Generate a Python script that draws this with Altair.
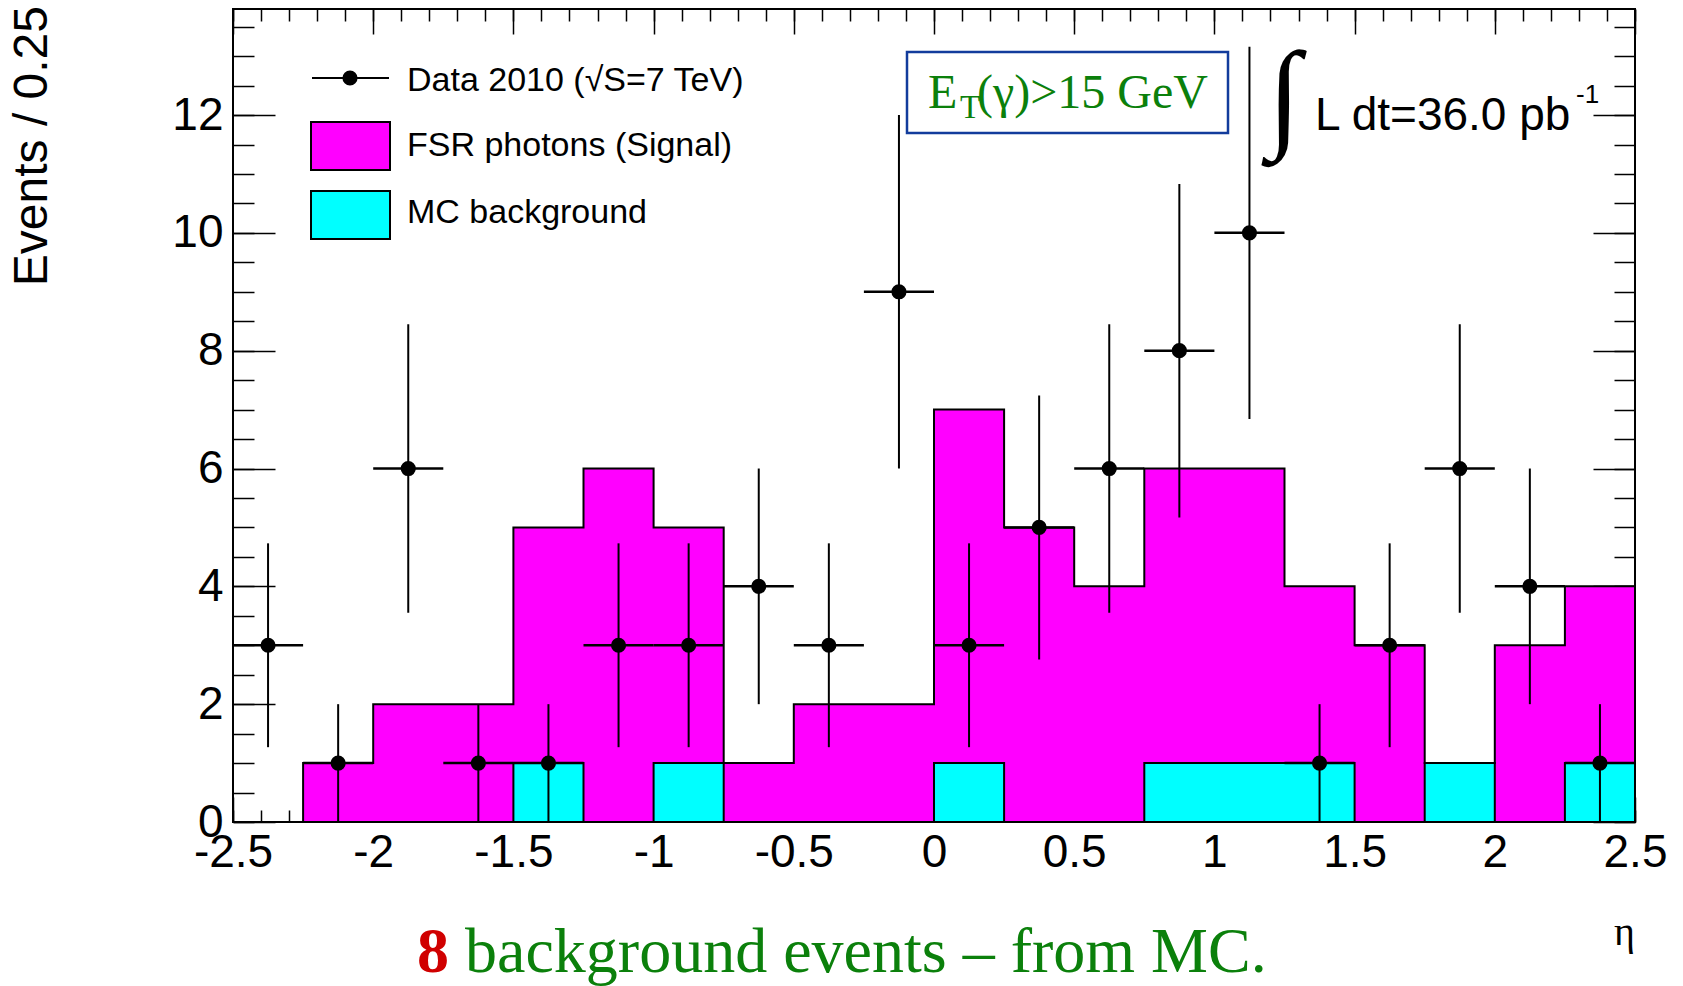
import altair as alt
import pandas as pd

# ---------------- data ----------------
bin_lo = [-2.5, -2.25, -2.0, -1.75, -1.5, -1.25, -1.0, -0.75, -0.5, -0.25,
          0.0, 0.25, 0.5, 0.75, 1.0, 1.25, 1.5, 1.75, 2.0, 2.25]
bin_width = 0.25
background = [0, 0, 0, 0, 1, 0, 1, 0, 0, 0, 1, 0, 0, 1, 1, 1, 0, 1, 0, 1]
signal = [0, 1, 2, 2, 4, 6, 4, 1, 2, 2, 6, 5, 4, 5, 5, 3, 3, 0, 3, 3]
data_counts = [3, 1, 6, 1, 1, 3, 3, 4, 3, 9, 3, 5, 6, 8, 10, 1, 3, 6, 4, 1]
data_err = [1.73, 1.0, 2.45, 1.0, 1.0, 1.73, 1.73, 2.0, 1.73, 3.0,
            1.73, 2.24, 2.45, 2.83, 3.16, 1.0, 1.73, 2.45, 2.0, 1.0]

x_major = [-2.5, -2.0, -1.5, -1.0, -0.5, 0.0, 0.5, 1.0, 1.5, 2.0, 2.5]
x_minor = [round(-2.5 + 0.1 * i, 1) for i in range(51)]
y_major = [0, 2, 4, 6, 8, 10, 12]
y_minor = [0.5 * i for i in range(28)]

# ---------------- tables ----------------
total = [b + s for b, s in zip(background, signal)]
bin_hi = [lo + bin_width for lo in bin_lo]
step = pd.DataFrame({"x": bin_lo + [bin_hi[-1]],
                     "total": total + [total[-1]],
                     "bg": background + [background[-1]],
                     "zero": [0] * (len(bin_lo) + 1)})
pts = pd.DataFrame({"center": [lo + bin_width / 2 for lo in bin_lo],
                    "lo": bin_lo, "hi": bin_hi, "n": data_counts,
                    "ylo": [n - e for n, e in zip(data_counts, data_err)],
                    "yhi": [n + e for n, e in zip(data_counts, data_err)]})

W, H = 1402, 813
xs = alt.Scale(domain=[-2.5, 2.5], nice=False, zero=False)
ys = alt.Scale(domain=[0, 13.8], nice=False, zero=True)
FONT = "Liberation Sans"
SERIF = "Liberation Serif"
GREEN = "#0b800b"

# ---------------- histogram (stacked: background + signal) ----------------
def step_area(field, color):
    return alt.Chart(step).mark_area(interpolate="step-after", color=color,
                                     opacity=1).encode(
        x=alt.X("x:Q", scale=xs, axis=None),
        y=alt.Y(f"{field}:Q", scale=ys, axis=None), y2="zero:Q")

def step_line(field):
    return alt.Chart(step).mark_line(interpolate="step-after", color="black",
                                     strokeWidth=2).encode(
        x=alt.X("x:Q", scale=xs, axis=None),
        y=alt.Y(f"{field}:Q", scale=ys, axis=None))

mag_fill = step_area("total", "#ff00ff")
mag_line = step_line("total")
cy_fill = step_area("bg", "#00ffff")
cy_line = step_line("bg")

# ---------------- data points ----------------
err_v = alt.Chart(pts).mark_rule(color="black", strokeWidth=2).encode(
    x=alt.X("center:Q", scale=xs, axis=None),
    y=alt.Y("ylo:Q", scale=ys, axis=None), y2="yhi:Q")
err_h = alt.Chart(pts).mark_rule(color="black", strokeWidth=2.5).encode(
    x=alt.X("lo:Q", scale=xs, axis=None), x2="hi:Q",
    y=alt.Y("n:Q", scale=ys, axis=None))
dots = alt.Chart(pts).mark_circle(size=230, color="black", opacity=1).encode(
    x=alt.X("center:Q", scale=xs, axis=None),
    y=alt.Y("n:Q", scale=ys, axis=None))

# ---------------- axes (ticks inside, ROOT style) ----------------
def axis_layer(xa, ya):
    return alt.Chart(pts).mark_point(opacity=0).encode(
        x=alt.X("center:Q", scale=xs, axis=xa),
        y=alt.Y("n:Q", scale=ys, axis=ya))

common = dict(domain=False, grid=False, title=None, tickColor="black",
              tickWidth=1.5)
ax_main = axis_layer(
    alt.Axis(orient="bottom", values=x_major, tickSize=25, offset=-25,
             labels=True, labelExpr="'' + datum.value", labelFontSize=46,
             labelFont=FONT, labelColor="black", labelPadding=8,
             labelOverlap=False, labelFlush=False, **common),
    alt.Axis(orient="left", values=y_major, tickSize=42, offset=-42,
             labels=True, labelExpr="'' + datum.value", labelFontSize=46,
             labelFont=FONT, labelColor="black", labelPadding=10,
             labelOverlap=False, labelFlush=False, **common))
ax_minor = axis_layer(
    alt.Axis(orient="bottom", values=x_minor, tickSize=12, offset=-12,
             labels=False, **common),
    alt.Axis(orient="left", values=y_minor, tickSize=21, offset=-21,
             labels=False, **common))
ax_top = axis_layer(
    alt.Axis(orient="top", values=x_major, tickSize=25, offset=-25,
             labels=False, **common),
    alt.Axis(orient="right", values=y_major, tickSize=42, offset=-42,
             labels=False, **common))
ax_top_minor = axis_layer(
    alt.Axis(orient="top", values=x_minor, tickSize=12, offset=-12,
             labels=False, **common),
    alt.Axis(orient="right", values=y_minor, tickSize=21, offset=-21,
             labels=False, **common))

# ---------------- frame ----------------
one = pd.DataFrame({"a": [0]})
frame = alt.Chart(one).mark_rect(fill=None, stroke="black", strokeWidth=2).encode(
    x=alt.value(0), x2=alt.value(W), y=alt.value(0), y2=alt.value(H))

# ---------------- legend ----------------
leg_line = alt.Chart(one).mark_rule(color="black", strokeWidth=2).encode(
    x=alt.value(79), x2=alt.value(156), y=alt.value(69))
leg_dot = alt.Chart(one).mark_circle(size=230, color="black", opacity=1).encode(
    x=alt.value(117), y=alt.value(69))
leg_mag = alt.Chart(one).mark_rect(fill="#ff00ff", stroke="black", strokeWidth=2).encode(
    x=alt.value(78), x2=alt.value(157), y=alt.value(113), y2=alt.value(161))
leg_cy = alt.Chart(one).mark_rect(fill="#00ffff", stroke="black", strokeWidth=2).encode(
    x=alt.value(78), x2=alt.value(157), y=alt.value(182), y2=alt.value(230))

def txt(text, x, y, size, color="black", font=FONT, align="left",
        baseline="alphabetic", weight="normal", angle=0):
    kw = dict(text=text, align=align, baseline=baseline, fontSize=size,
              font=font, color=color, fontWeight=weight)
    if angle:
        kw["angle"] = angle
    return alt.Chart(one).mark_text(**kw).encode(x=alt.value(x), y=alt.value(y))

leg_t1 = txt("Data 2010 (\u221aS=7 TeV)", 174, 82, 34)
leg_t2 = txt("FSR photons (Signal)", 174, 147, 34)
leg_t3 = txt("MC background", 174, 214, 34)

# ---------------- annotations ----------------
et_box = alt.Chart(one).mark_rect(fill=None, stroke="#123c9c", strokeWidth=2.5).encode(
    x=alt.value(674), x2=alt.value(995), y=alt.value(43), y2=alt.value(124))
et_E = txt("E", 695, 99, 48, GREEN, SERIF)
et_T = txt("T", 727, 109, 33, GREEN, SERIF)
et_rest = txt("(\u03b3)>15 GeV", 744, 99, 48, GREEN, SERIF)

integ = txt("\u222b", 1051, 90, 120, "black", SERIF, align="center",
            baseline="middle")
lumi = txt("L dt=36.0 pb", 1082, 121, 46)
lumi_sup = txt("-1", 1343, 94, 26)

ytitle = txt("Events / 0.25", -200, -3, 48, align="right", baseline="middle",
             angle=270)
xtitle = txt("\u03b7", 1402, 936, 40, "black", SERIF, align="right")
note8 = txt("8", 184, 963, 64, "#d00000", SERIF, weight="bold")
note_rest = txt("background events \u2013 from MC.", 232, 963, 64, GREEN, SERIF)

chart = alt.layer(
    ax_main, ax_minor, ax_top, ax_top_minor,
    mag_fill, mag_line, cy_fill, cy_line,
    err_v, err_h, dots, frame,
    leg_line, leg_dot, leg_mag, leg_cy, leg_t1, leg_t2, leg_t3,
    et_box, et_E, et_T, et_rest, integ, lumi, lumi_sup,
    ytitle, xtitle, note8, note_rest,
).resolve_axis(x="independent", y="independent").properties(
    width=W, height=H,
    padding={"left": 233, "top": 9, "right": 48, "bottom": 164},
    autosize=alt.AutoSizeParams(type="none"),
    background="white",
).configure_view(stroke=None)

chart.save("out.html", embed_options={"renderer": "svg", "actions": False})
